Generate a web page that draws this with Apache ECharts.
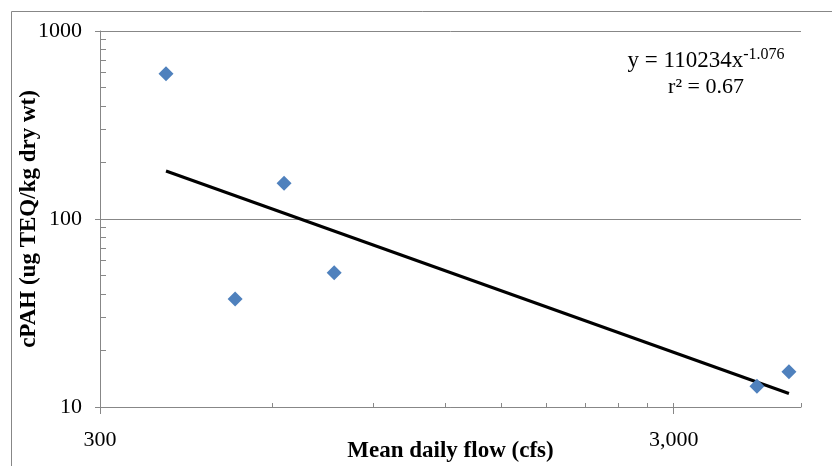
<!DOCTYPE html>
<html>
<head>
<meta charset="utf-8">
<script src="https://cdn.jsdelivr.net/npm/echarts@6/dist/echarts.min.js"></script>
<style>
html,body{margin:0;padding:0;background:#fff;}
#chart{width:832px;height:466px;}
</style>
</head>
<body>
<div id="chart"></div>
<script>
// Data
const flowCfs = [391, 516, 628, 768, 4190, 4764];
const cpahTeq = [593, 37.5, 155, 51.8, 12.9, 15.4];
// Power trend line endpoints
const trendFlow = [391, 4764];
const trendCpah = [180, 11.8];
// Axis tick labels / tick positions
const xLabelValues = [300, 3000];
const xMinorTickValues = [300, 600, 900, 1200, 1500, 1800, 2100, 2400, 2700, 3000, 5000];
const yMinorTickValues = [20, 30, 40, 50, 60, 70, 80, 90, 100, 200, 300, 400, 500, 600, 700, 800, 900];
const xRange = [300, 5000];
const yRange = [10, 1000];
const xTitle = 'Mean daily flow (cfs)';
const yTitle = 'cPAH (ug TEQ/kg dry wt)';
const eqMain = 'y = 110234x';
const eqExp = '-1.076';
const eqR2 = 'r² = 0.67';

const points = flowCfs.map((x, i) => [x, cpahTeq[i]]);
const trend = trendFlow.map((x, i) => [x, trendCpah[i]]);

const FONT = '"Liberation Serif", "Times New Roman", serif';
const GRAY = '#878787';

const chart = echarts.init(document.getElementById('chart'), null, {renderer: 'canvas'});
chart.setOption({
  animation: false,
  backgroundColor: '#fff',
  grid: {left: 100, right: 31, top: 31, bottom: 59, containLabel: false, outerBoundsMode: 'none'},
  xAxis: [{
    type: 'log', logBase: 10, min: xRange[0], max: xRange[1],
    axisLine: {show: true, lineStyle: {color: GRAY, width: 1}},
    axisTick: {show: true, inside: false, length: 7, lineStyle: {color: GRAY}, customValues: xLabelValues},
    axisLabel: {show: true, customValues: xLabelValues, margin: 22, color: '#000',
      fontFamily: FONT, fontSize: 22,
      formatter: v => Math.round(v).toLocaleString('en-US')},
    splitLine: {show: false},
    minorTick: {show: false},
    name: xTitle, nameLocation: 'middle', nameGap: 33, nameMoveOverlap: false,
    nameTextStyle: {fontFamily: FONT, fontSize: 23, fontWeight: 'bold', color: '#000',
      verticalAlign: 'top'}
  }, {
    type: 'log', logBase: 10, min: xRange[0], max: xRange[1], position: 'bottom',
    axisLine: {show: false},
    axisTick: {show: true, inside: true, length: 4, lineStyle: {color: GRAY}, customValues: xMinorTickValues},
    axisLabel: {show: false},
    splitLine: {show: false}
  }],
  yAxis: [{
    type: 'log', logBase: 10, min: yRange[0], max: yRange[1],
    axisLine: {show: true, lineStyle: {color: GRAY, width: 1}},
    axisTick: {show: true, inside: false, length: 5, lineStyle: {color: GRAY}},
    axisLabel: {show: true, margin: 18, color: '#000', fontFamily: FONT, fontSize: 22,
      formatter: v => String(Math.round(v))},
    splitLine: {show: true, lineStyle: {color: GRAY, width: 1}},
    name: yTitle, nameLocation: 'middle', nameGap: 59, nameRotate: 90, nameMoveOverlap: false,
    nameTextStyle: {fontFamily: FONT, fontSize: 23, fontWeight: 'bold', color: '#000'}
  }, {
    type: 'log', logBase: 10, min: yRange[0], max: yRange[1], position: 'left',
    axisLine: {show: false},
    axisTick: {show: true, inside: true, length: 6, lineStyle: {color: GRAY}, customValues: yMinorTickValues},
    axisLabel: {show: false},
    splitLine: {show: false}
  }],
  series: [{
    type: 'line', data: trend, xAxisIndex: 0, yAxisIndex: 0,
    showSymbol: false, symbol: 'none',
    lineStyle: {color: '#000', width: 3}, z: 3
  }, {
    type: 'scatter', data: points, xAxisIndex: 0, yAxisIndex: 0,
    symbol: 'diamond', symbolSize: 15,
    itemStyle: {color: '#4F81BD', opacity: 1}, z: 4
  }],
  graphic: [{
    type: 'rect', left: 9, top: 9, silent: true, z: -10,
    shape: {x: 0, y: 0, width: 840, height: 470},
    style: {fill: null, stroke: GRAY, lineWidth: 1}
  }, {
    type: 'text', x: 706, y: 61, silent: true,
    style: {
      text: '{a|' + eqMain + '}{b|' + eqExp + '}',
      align: 'center', verticalAlign: 'middle',
      rich: {
        a: {fontFamily: FONT, fontSize: 23, fill: '#000', lineHeight: 24},
        b: {fontFamily: FONT, fontSize: 16, fill: '#000', padding: [0, 0, 12, 0]}
      }
    }
  }, {
    type: 'text', x: 706, y: 87, silent: true,
    style: {text: eqR2, align: 'center', verticalAlign: 'middle',
      fontFamily: FONT, fontSize: 22, fill: '#000'}
  }]
});
</script>
</body>
</html>
